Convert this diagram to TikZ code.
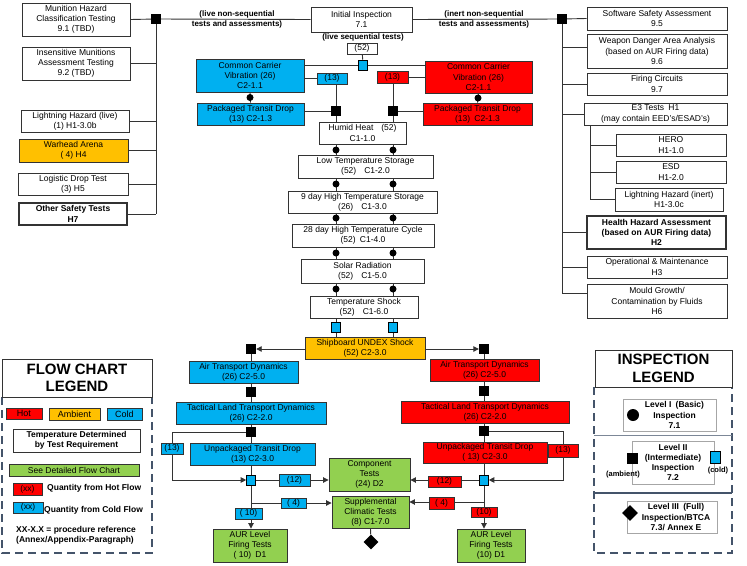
\documentclass[tikz,border=0pt]{standalone}
\usepackage{fontspec}
\setmainfont{Liberation Sans}
\usetikzlibrary{arrows.meta,backgrounds,shapes.geometric}

\definecolor{hotred}{HTML}{FF0000}
\definecolor{coldblue}{HTML}{00B0F0}
\definecolor{ambient}{HTML}{FFC000}
\definecolor{detailgreen}{HTML}{92D050}
\definecolor{legendframe}{HTML}{44546A}
\definecolor{boxline}{HTML}{333333}

\newcommand{\fsbox}{\fontsize{8.5}{10.2}\selectfont}
\newcommand{\fslbl}{\fontsize{8}{10}\selectfont\bfseries}
\newcommand{\fstitle}{\fontsize{15}{17.5}\selectfont\bfseries}
\newcommand{\qgap}{\hspace{8pt}}

\tikzset{
  boxspan/.style n args={4}{at={({(#1+#3)/2},{(#2+#4)/2})},
    minimum width={(#3-#1)*1pt}, minimum height={(#4-#2)*1pt}},
  testbox/.style={draw=boxline, line width=0.9pt, fill=white, align=center,
    inner sep=0pt, font=\fsbox},
  hotbox/.style={testbox, fill=hotred},
  coldbox/.style={testbox, fill=coldblue},
  ambbox/.style={testbox, fill=ambient},
  greenbox/.style={testbox, fill=detailgreen},
  safetybox/.style={testbox, line width=1.5pt, font=\fsbox\bfseries},
  levelbox/.style={draw=black!35, line width=0.6pt, fill=white, align=center,
    inner sep=0pt, font=\fsbox\bfseries},
  insq/.style={rectangle, fill=black, inner sep=0pt, minimum size=10pt},
  coldsq/.style={rectangle, draw=black, line width=0.6pt, fill=coldblue,
    inner sep=0pt, minimum width=9pt, minimum height=10pt},
  indot/.style={circle, fill=black, inner sep=0pt, minimum size=7pt},
  indiamond/.style={diamond, fill=black, inner sep=0pt, minimum size=15pt},
  link/.style={draw=boxline, line width=0.9pt},
  flow/.style={link, -{Triangle[length=5.5pt,width=5.5pt]}},
  legendborder/.style={draw=legendframe, line width=2.4pt, dash pattern=on 8pt off 5pt},
}

\begin{document}
\begin{tikzpicture}[x=1pt, y=-1pt]
\useasboundingbox (0,0) rectangle (747,565);

% Initial inspection
\node[testbox, boxspan={311}{7}{412}{32}] (init) {Initial Inspection\\7.1};
\node[font=\fslbl, inner sep=0pt] (livelbl) at (363,37) {(live sequential tests)};
\node[testbox, boxspan={347}{43}{377}{54}] (n52) {(52)};
\node[coldsq] (topsq) at (363,65) {};
\node[font=\fslbl, align=center, inner sep=0pt] (livens) at (237,19) {(live non-sequential\\tests and assessments)};
\node[font=\fslbl, align=center, inner sep=0pt] (inertns) at (484,19) {(inert non-sequential\\tests and assessments)};

% Live non-sequential tests (left tree)
\node[insq] (livesq) at (156,19) {};
\node[testbox, boxspan={22}{3}{130}{36}] (mhc) {Munition Hazard\\Classification Testing\\9.1 (TBD)};
\node[testbox, boxspan={22}{47}{130}{80}] (ima) {Insensitive Munitions\\Assessment Testing\\9.2 (TBD)};
\node[testbox, boxspan={21}{110}{129}{132}] (lhl) {Lightning Hazard (live)\\(1) H1-3.0b};
\node[ambbox, boxspan={19}{139}{128}{162}] (wha) {Warhead Arena\\( 4) H4};
\node[testbox, boxspan={18}{173}{128}{195}] (ldt) {Logistic Drop Test\\(3) H5};
\node[safetybox, boxspan={19}{203}{127}{225}] (ost) {Other Safety Tests\\H7};

% Inert non-sequential tests (right tree)
\node[insq] (inertsq) at (562,19) {};
\node[testbox, boxspan={587}{7}{727}{30}] (ssa) {Software Safety Assessment\\9.5};
\node[testbox, boxspan={587}{34}{727}{68}] (wda) {Weapon Danger Area Analysis\\(based on AUR Firing data)\\9.6};
\node[testbox, boxspan={587}{73}{727}{95}] (fcs) {Firing Circuits\\9.7};
\node[testbox, boxspan={584}{103}{727}{125}] (e3t) {E3 Tests\enspace H1\\(may contain EED's/ESAD's)};
\node[testbox, boxspan={616}{134}{726}{156}] (hero) {HERO\\H1-1.0};
\node[testbox, boxspan={616}{161}{726}{183}] (esd) {ESD\\H1-2.0};
\node[testbox, boxspan={615}{188}{723}{211}] (lhi) {Lightning Hazard (inert)\\H1-3.0c};
\node[safetybox, boxspan={587}{216}{726}{249}] (hha) {Health Hazard Assessment\\(based on AUR Firing data)\\H2};
\node[testbox, boxspan={587}{256}{727}{278}] (opm) {Operational \& Maintenance\\H3};
\node[testbox, boxspan={587}{284}{727}{318}] (mgc) {Mould Growth/\\Contamination by Fluids\\H6};
\coordinate (wdain) at ([yshift=4pt]wda.west);
\coordinate (mgcin) at ([yshift=8pt]mgc.west);
\coordinate (e3sub) at ([xshift=7pt]e3t.south west);

% Common carrier vibration and packaged drop
\node[coldbox, boxspan={196}{59}{304}{92}] (ccvc) {Common Carrier\\Vibration (26)\\C2-1.1};
\node[hotbox, boxspan={425}{61}{532}{93}] (ccvh) {Common Carrier\\Vibration (26)\\C2-1.1};
\node[coldbox, boxspan={317}{73}{347}{84}] (q13c) {(13)};
\node[hotbox, boxspan={377}{71}{408}{83}] (q13h) {(13)};
\node[indot] (dotc) at (250,97.5) {};
\node[indot] (doth) at (478,98) {};
\node[coldbox, boxspan={197}{103}{304}{125}] (ptdc) {Packaged Transit Drop\\(13) C2-1.3};
\node[hotbox, boxspan={423}{103}{532}{125}] (ptdh) {Packaged Transit Drop\\(13)\enspace C2-1.3};
\node[insq] (sqc) at (336,111) {};
\node[insq] (sqh) at (393,111) {};

% Climatic sequence
\node[testbox, boxspan={319}{122}{406}{144}] (hh) {Humid Heat\qgap(52)\\C1-1.0};
\node[testbox, boxspan={298}{155}{433}{178}] (lts) {Low Temperature Storage\\(52)\qgap C1-2.0};
\node[testbox, boxspan={288}{191}{437}{213}] (hts) {9 day High Temperature Storage\\(26)\qgap C1-3.0};
\node[testbox, boxspan={292}{224}{434}{247}] (htc) {28 day High Temperature Cycle\\(52)\enspace C1-4.0};
\node[testbox, boxspan={301}{259}{424}{283}] (sol) {Solar Radiation\\(52)\qgap C1-5.0};
\node[testbox, boxspan={310}{296}{418}{318}] (tsh) {Temperature Shock\\(52)\qgap C1-6.0};
\foreach \y in {150,184,218,253,289} {
  \node[indot] (dotl\y) at (336,\y) {};
  \node[indot] (dotr\y) at (393,\y) {};
}
\node[coldsq] (csql) at (336,327) {};
\node[coldsq] (csqr) at (393,327) {};
\node[ambbox, boxspan={305}{337}{425}{359}] (undex) {Shipboard UNDEX Shock\\(52) C2-3.0};

% Cold transport branch
\node[insq] (sqa1) at (251,349) {};
\node[coldbox, boxspan={189}{361}{298}{383}] (atdc) {Air Transport Dynamics\\(26) C2-5.0};
\node[insq] (sqa2) at (251,392) {};
\node[coldbox, boxspan={176}{402}{326}{424}] (tldc) {Tactical Land Transport Dynamics\\(26) C2-2.0};
\node[insq] (sqa3) at (251,432) {};
\node[coldbox, boxspan={190}{443}{315}{465}] (utdc) {Unpackaged Transit Drop\\(13) C2-3.0};
\node[coldsq] (csqa) at (251,480) {};
\coordinate (loopc) at (172,432);
\coordinate (forkc) at (251,503);
\node[coldbox, boxspan={161}{443}{183}{454}] (q13cl) {(13)};
\node[coldbox, boxspan={279}{474}{310}{486}] (q12c) {(12)};
\node[coldbox, boxspan={281}{498}{306}{508}] (q4c) {( 4)};
\node[coldbox, boxspan={235}{508}{262}{519}] (q10c) {( 10)};
\node[greenbox, boxspan={213}{529}{287}{562}] (aurc) {AUR Level\\Firing Tests\\( 10)\enspace D1};

% Hot transport branch
\node[insq] (sqb1) at (484,349) {};
\node[hotbox, boxspan={430}{359}{539}{381}] (atdh) {Air Transport Dynamics\\(26) C2-5.0};
\node[insq] (sqb2) at (484,391) {};
\node[hotbox, boxspan={401}{401}{569}{423}] (tldh) {Tactical Land Transport Dynamics\\(26) C2-2.0};
\node[insq] (sqb3) at (484,431) {};
\node[hotbox, boxspan={423}{442}{547}{463}] (utdh) {Unpackaged Transit Drop\\( 13) C2-3.0};
\node[coldsq] (csqb) at (484,480) {};
\coordinate (looph) at (563,431);
\coordinate (forkh) at (484,502);
\node[hotbox, boxspan={548}{444}{578}{457}] (q13hr) {(13)};
\node[hotbox, boxspan={428}{476}{461}{487}] (q12h) {(12)};
\node[hotbox, boxspan={429}{497}{454}{509}] (q4h) {( 4)};
\node[hotbox, boxspan={471}{507}{497}{517}] (q10h) {(10)};
\node[greenbox, boxspan={457}{529}{525}{562}] (aurh) {AUR Level\\Firing Tests\\(10) D1};

% Component and supplemental tests
\node[greenbox, boxspan={329}{458}{410}{491}] (cmp) {Component\\Tests\\(24) D2};
\node[greenbox, boxspan={332}{496}{409}{528}] (sup) {Supplemental\\Climatic Tests\\(8) C1-7.0};
\node[indiamond] (supdia) at (371,542) {};

% Flow chart legend
\draw[legendborder] (2,397) -- (2,553) -- (152,553) -- (152,397);
\node[testbox, boxspan={2}{359}{152}{397}, font=\fstitle] (fctitle) {FLOW CHART\\LEGEND};
\node[hotbox, boxspan={6}{408}{42}{419}, font=\fontsize{9}{10}\selectfont] (lghot) {Hot};
\node[ambbox, boxspan={49}{408}{100}{420}, font=\fontsize{9}{10}\selectfont] (lgamb) {Ambient};
\node[coldbox, boxspan={107}{408}{142}{420}, font=\fontsize{9}{10}\selectfont] (lgcold) {Cold};
\node[testbox, boxspan={13}{429}{140}{452}, font=\fsbox\bfseries] (lgtemp) {Temperature Determined\\by Test Requirement};
\node[greenbox, boxspan={9}{464}{139}{476}] (lgdet) {See Detailed Flow Chart};
\node[hotbox, boxspan={13}{483}{42}{495}] (lgqh) {(xx)};
\node[font=\fsbox\bfseries, inner sep=0pt, anchor=west] (lgqhtxt) at (47,488) {Quantity from Hot Flow};
\node[coldbox, boxspan={13}{502}{43}{513}] (lgqc) {(xx)};
\node[font=\fsbox\bfseries, inner sep=0pt, anchor=west] (lgqctxt) at (44,510) {Quantity from Cold Flow};
\node[font=\fsbox\bfseries, inner sep=0pt, align=left, anchor=west] (lgref) at (16,535) {XX-X.X = procedure reference\\(Annex/Appendix-Paragraph)};

% Inspection legend
\draw[legendborder] (594,387) -- (594,553) -- (732,553) -- (732,387);
\draw[legendframe!70, line width=0.6pt] (594,435) -- (732,435);
\draw[legendframe, line width=1.2pt] (594,493) -- (732,493);
\node[testbox, boxspan={595}{350}{732}{387}, font=\fstitle] (intitle) {INSPECTION\\LEGEND};
\node[levelbox, boxspan={623}{399}{716}{431}] (lv1) {\hspace{10pt}Level I\enspace(Basic)\\\hspace{10pt}Inspection\\\hspace{10pt}7.1};
\node[indot, minimum size=12pt] (lv1dot) at (633,415) {};
\node[levelbox, boxspan={632}{441}{714}{484}] (lv2) {Level II\\(Intermediate)\\Inspection\\7.2};
\node[insq, minimum size=11pt] (lv2sq) at (632,458) {};
\node[font=\fontsize{7.5}{9}\selectfont\bfseries, inner sep=0pt] (lv2amb) at (623,475) {(ambient)};
\node[coldsq, minimum width=10pt, minimum height=12pt] (lv2csq) at (715,457) {};
\node[font=\fontsize{7.5}{9}\selectfont\bfseries, inner sep=0pt] (lv2cold) at (718,471) {(cold)};
\node[levelbox, boxspan={627}{501}{717}{533}] (lv3) {\hspace{8pt}Level III\enspace(Full)\\\hspace{8pt}Inspection/BTCA\\\hspace{8pt}7.3/ Annex E};
\node[indiamond, minimum size=16pt] (lv3dia) at (630,513) {};

% Connectors
\begin{scope}[on background layer]
  % live tree
  \draw[link] (init.west) -- (livesq);
  \draw[link] (mhc.east) -- (livesq);
  \draw[link] (livesq) -- (livesq |- ost.east);
  \foreach \n in {ima,lhl,wha,ldt,ost}
    \draw[link] (\n.east) -- (\n.east -| livesq);
  % inert tree
  \draw[link] (init.east) -- (inertsq);
  \draw[link] (inertsq) -- (ssa.west);
  \draw[link] (inertsq) -- (inertsq |- mgcin);
  \foreach \n in {wdain,fcs.west,e3t.west,hha.west,opm.west,mgcin}
    \draw[link] (\n) -- (\n -| inertsq);
  \draw[link] (e3sub) |- (lhi.west);
  \foreach \n in {hero,esd}
    \draw[link] (\n.west) -- (\n.west -| e3sub);
  % vibration and drop
  \draw[link] (n52) -- (topsq);
  \draw[link] (topsq -| ccvc.east) -- (topsq -| ccvh.west);
  \draw[link] (q13c.west) -- (q13c.west -| ccvc.east);
  \draw[link] (q13h.east) -- (q13h.east -| ccvh.west);
  \draw[link] (sqc |- q13c.south) -- (sqc);
  \draw[link] (sqh |- q13h.south) -- (sqh);
  \draw[link] (sqc -| ptdc.east) -- (sqc);
  \draw[link] (sqh) -- (sqh -| ptdh.west);
  \draw[link] (ccvc.south) -- (ptdc.north);
  \draw[link] (ccvh.south) -- (ptdh.north);
  % climatic sequence
  \draw[link] (sqc) -- (sqc |- undex.north);
  \draw[link] (sqh) -- (sqh |- undex.north);
  % cold branch
  \draw[flow] (sqa1 -| undex.west) -- (sqa1);
  \draw[link] (sqa1) -- (csqa);
  \draw[flow] (sqa3) -- (loopc) |- (csqa);
  \draw[flow] (csqa) -- (csqa -| cmp.west);
  \draw[flow] (forkc) -- (forkc -| sup.west);
  \draw[flow] (csqa) -- (csqa |- aurc.north);
  % hot branch
  \draw[flow] (sqb1 -| undex.east) -- (sqb1);
  \draw[link] (sqb1) -- (csqb);
  \draw[flow] (sqb3) -- (looph) |- (csqb);
  \draw[flow] (csqb) -- (csqb -| cmp.east);
  \draw[flow] (forkh) -- (forkh -| sup.east);
  \draw[flow] (csqb) -- (csqb |- aurh.north);
  % full inspection
  \draw[link] (sup.south) -- (supdia);
\end{scope}
\end{tikzpicture}
\end{document}
